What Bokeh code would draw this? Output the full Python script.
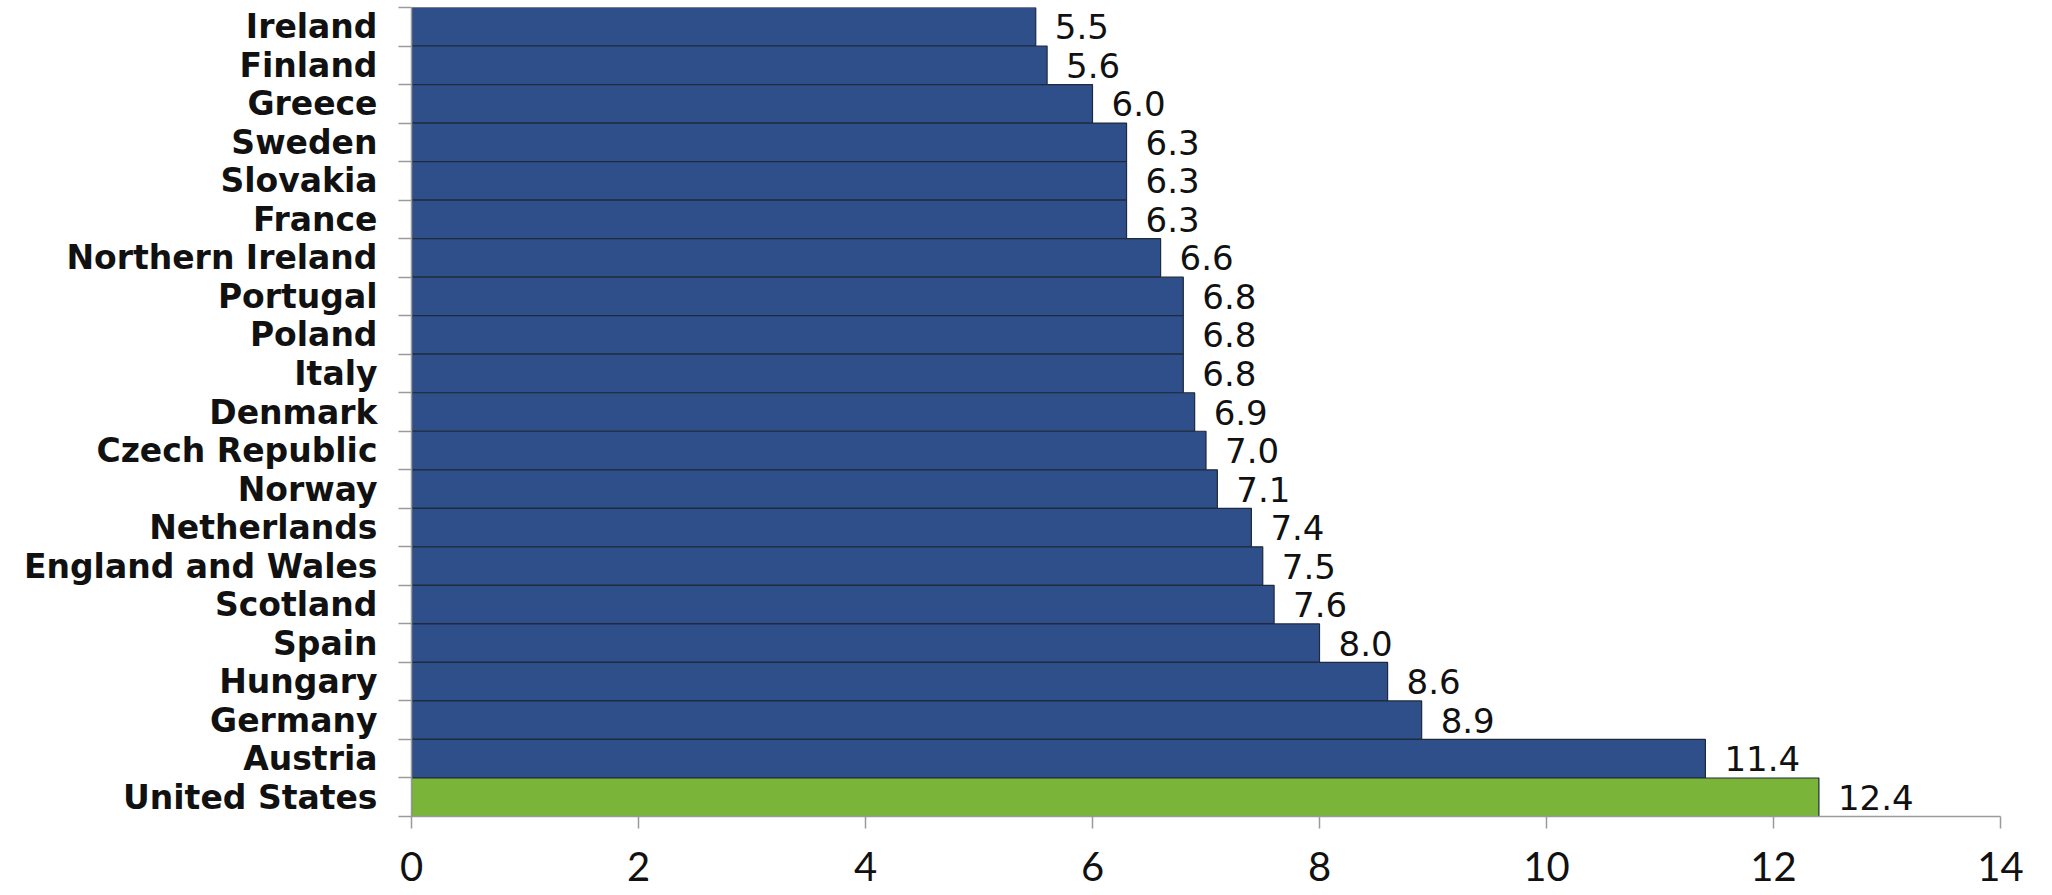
from bokeh.plotting import figure
from bokeh.models import ColumnDataSource, Range1d, FixedTicker
from bokeh.embed import file_html
from bokeh.resources import INLINE
from bokeh.core.properties import value

countries = ["Ireland", "Finland", "Greece", "Sweden", "Slovakia", "France",
             "Northern Ireland", "Portugal", "Poland", "Italy", "Denmark",
             "Czech Republic", "Norway", "Netherlands", "England and Wales",
             "Scotland", "Spain", "Hungary", "Germany", "Austria", "United States"]
values = [5.5, 5.6, 6.0, 6.3, 6.3, 6.3, 6.6, 6.8, 6.8, 6.8, 6.9,
          7.0, 7.1, 7.4, 7.5, 7.6, 8.0, 8.6, 8.9, 11.4, 12.4]
highlight = "United States"
x_ticks = [0, 2, 4, 6, 8, 10, 12, 14]

BLUE = "#2F4F8A"
GREEN = "#7AB53A"
GRAY = "#9A9A9A"

n = len(countries)
idx = list(range(n))
colors = [GREEN if c == highlight else BLUE for c in countries]
labels = [f"{v:.1f}" for v in values]

src = ColumnDataSource(dict(y=idx, x=values, color=colors, label=labels, name=countries))

p = figure(width=2044, height=895, output_backend="svg", toolbar_location=None,
           x_range=Range1d(0, 14), y_range=Range1d(n - 0.5, -0.5),
           min_border_left=411, min_border_right=44, min_border_top=7, min_border_bottom=79)
p.outline_line_color = None
p.grid.grid_line_color = None
p.background_fill_color = "white"

p.hbar(y="y", right="x", left=0, height=1.0, fill_color="color",
       line_color="#1F2A3A", line_width=1.2, source=src)

p.text(x="x", y="y", text="label", source=src, x_offset=19,
       text_baseline="middle", text_align="left",
       text_font=value("DejaVu Sans"), text_font_size="34px", text_color="#111111")

# x axis
xa = p.xaxis[0]
xa.ticker = FixedTicker(ticks=x_ticks)
xa.axis_line_color = GRAY
xa.axis_line_width = 1.5
xa.major_tick_line_color = GRAY
xa.major_tick_line_width = 1.5
xa.major_tick_out = 12
xa.major_tick_in = 0
xa.minor_tick_line_color = None
xa.major_label_text_font = "Lato"
xa.major_label_text_font_size = "40px"
xa.major_label_text_color = "#111111"
xa.major_label_standoff = 23

# y axis: labels at centers, ticks at boundaries
ya = p.yaxis[0]
ya.ticker = FixedTicker(ticks=idx, minor_ticks=[i - 0.5 for i in range(n + 1)])
ya.major_label_overrides = {i: c for i, c in enumerate(countries)}
ya.axis_line_color = GRAY
ya.axis_line_width = 1.5
ya.major_tick_line_color = None
ya.minor_tick_line_color = GRAY
ya.minor_tick_line_width = 1.5
ya.minor_tick_out = 13
ya.minor_tick_in = 0
ya.major_label_text_font = "DejaVu Sans"
ya.major_label_text_font_style = "bold"
ya.major_label_text_font_size = "33px"
ya.major_label_text_color = "#111111"
ya.major_label_standoff = 21

open("out.html", "w").write(file_html(p, INLINE))
